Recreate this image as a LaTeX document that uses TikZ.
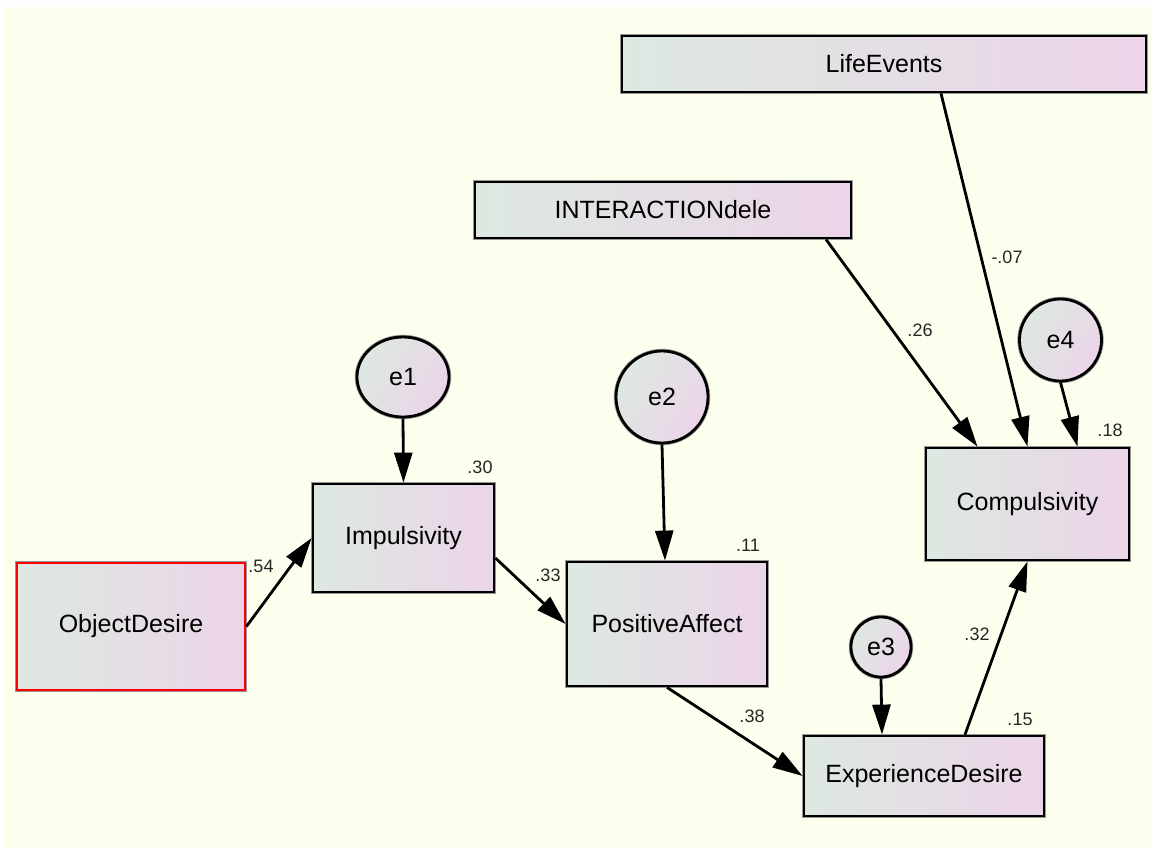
\documentclass[tikz,border=0pt]{standalone}
\usepackage{fontspec}
\setmainfont{Liberation Sans}
\usetikzlibrary{arrows.meta,calc,shapes.geometric}

\definecolor{paper}{RGB}{253,255,238}
\definecolor{shadeL}{RGB}{221,232,225}
\definecolor{shadeR}{RGB}{236,212,233}
\definecolor{halo}{RGB}{150,150,150}

\tikzset{
  var/.style={draw=black, line width=2.8pt, left color=shadeL, right color=shadeR,
    inner sep=0pt, font=\fontsize{25}{30}\selectfont,
    preaction={draw=halo, line width=4.4pt}},
  box/.style={var, rectangle},
  errc/.style={var, circle, shading angle=60},
  erre/.style={var, ellipse, shading angle=60},
  link/.style={line width=2.8pt, -{Triangle[length=30pt,width=18pt]}},
  lbl/.style={font=\fontsize{18}{20}\selectfont, inner sep=0pt, text=black!85}
}

\begin{document}
\begin{tikzpicture}[x=1pt, y=-1pt]
  \useasboundingbox (0,0) rectangle (1152,848);
  \fill[paper] (4,7) rectangle (1152,848);

  % observed variables
  \node[box, minimum width=524pt, minimum height=56pt] (le) at (884,64) {LifeEvents};
  \node[box, minimum width=376pt, minimum height=56pt] (inter) at (663,210) {INTERACTIONdele};
  \node[box, minimum width=203pt, minimum height=112pt] (comp) at (1027.5,504) {Compulsivity};
  \node[box, minimum width=181pt, minimum height=108pt] (imp) at (403.5,538) {Impulsivity};
  \node[box, minimum width=200pt, minimum height=124pt] (pa) at (667,624) {PositiveAffect};
  \node[box, draw=red, minimum width=228pt, minimum height=127pt] (od) at (131,626.5) {ObjectDesire};
  \node[box, minimum width=240pt, minimum height=80pt] (ed) at (924,776) {ExperienceDesire};

  % error terms
  \node[erre, minimum width=92pt, minimum height=80pt] (e1) at (403,377) {e1};
  \node[errc, minimum size=92pt] (e2) at (662,397) {e2};
  \node[errc, minimum size=60pt] (e3) at (881,647) {e3};
  \node[errc, minimum size=82pt] (e4) at (1060.5,340) {e4};

  % paths
  \draw[link] (od.east) -- (imp.west);
  \draw[link] (e1.south) -- (imp.north);
  \draw[link] ($(imp.east)+(0,20)$) -- (pa.west);
  \draw[link] (e2.south) -- ($(pa.north)+(-2,0)$);
  \draw[link] (pa.south) -- (ed.west);
  \draw[link] (e3.south) -- ($(ed.north)+(-42,0)$);
  \draw[link] ($(ed.north)+(41,0)$) -- (comp.south);
  \draw[link] ($(inter.south)+(163,0)$) -- ($(comp.north)+(-50,0)$);
  \draw[link] ($(le.south)+(57,0)$) -- (comp.north);
  \draw[link] (e4.south) -- ($(comp.north)+(50,0)$);

  % coefficients
  \node[lbl] (c54) at (261,566) {.54};
  \node[lbl] (c30) at (480,467) {.30};
  \node[lbl] (c33) at (548,575) {.33};
  \node[lbl] (c11) at (748,545) {.11};
  \node[lbl] (c38) at (752,716) {.38};
  \node[lbl] (c15) at (1020,719) {.15};
  \node[lbl] (c32) at (977,634) {.32};
  \node[lbl] (c26) at (920,330) {.26};
  \node[lbl] (c07) at (1007,257) {-.07};
  \node[lbl] (c18) at (1110,430) {.18};
\end{tikzpicture}
\end{document}
